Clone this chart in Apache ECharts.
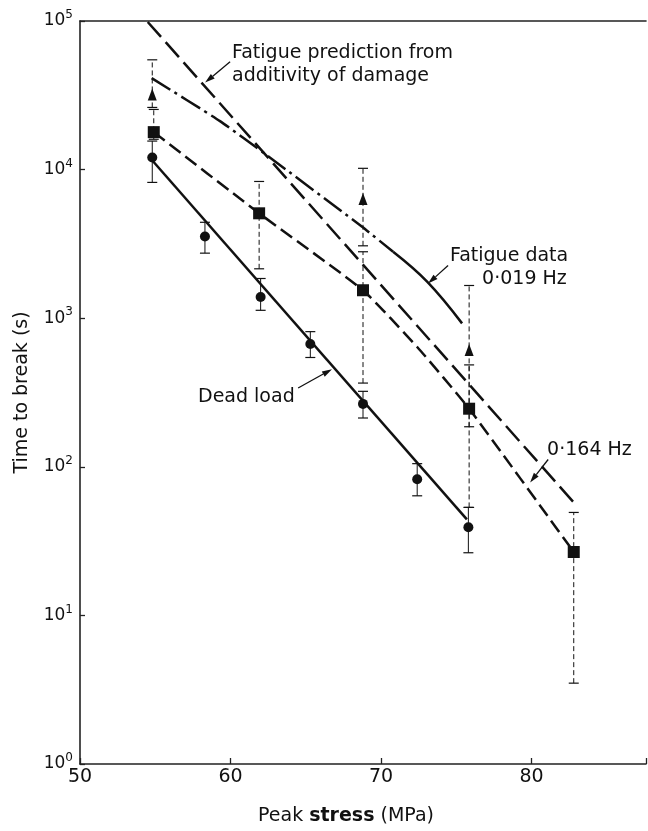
<!DOCTYPE html>
<html>
<head>
<meta charset="utf-8">
<script src="https://cdn.jsdelivr.net/npm/echarts@6/dist/echarts.min.js"></script>
<style>
  html, body { margin: 0; padding: 0; background: #fff; }
  #chart { width: 648px; height: 831px; }
</style>
</head>
<body>
<div id="chart"></div>
<script>
// Dead load: time to break with scatter bars
const deadStress = [54.8, 58.3, 62.0, 65.3, 68.8, 72.4, 75.8];
const deadTime   = [12050, 3550, 1390, 671, 265, 82.5, 39.2];
const deadLow    = [8200, 2740, 1130, 544, 213, 63.8, 26.4];
const deadHigh   = [15560, 4420, 1850, 812, 322, 105, 53.3];

// Fatigue at 0.164 Hz (squares)
const hz164Stress = [54.9, 61.9, 68.8, 75.85, 82.8];
const hz164Time   = [17870, 5080, 1542, 246, 26.7];
const hz164Low    = [16000, 2150, 366, 186, 3.5];
const hz164High   = [25400, 8320, 2800, 485, 49.3];

// Fatigue at 0.019 Hz (triangles)
const hz019Stress = [54.8, 68.8, 75.85];
const hz019Time   = [32000, 6340, 611];
const hz019Low    = [26200, 3070, 53.3];
const hz019High   = [54800, 10200, 1660];

// Drawn curves
const deadFitStress = [54.85, 75.7];
const deadFitTime   = [11380, 44.3];
const predStress = [54.5, 82.8];
const predTime   = [98500, 57.6];
const hz164CurveStress = [54.9, 61.9, 68.8, 72.4, 75.85, 82.8];
const hz164CurveTime   = [17870, 5080, 1542, 640, 246, 26.7];
const hz019CurveStress = [54.76, 59.3, 62.5, 68.74, 70.8, 73.06, 75.38];
const hz019CurveTime   = [41300, 21200, 12300, 4120, 2800, 1762, 923];

// Axis ticks
const xTicks = [50, 60, 70, 80];
const yExponents = [0, 1, 2, 3, 4, 5];

const INK = '#111';
const FONT = 'DejaVu Sans';

const zip = (xs, ys) => xs.map((x, i) => [x, ys[i]]);
const bars = (xs, lo, hi) => xs.map((x, i) => [x, lo[i], hi[i]]);

function errorBars(dashed) {
  return function (params, api) {
    const x = api.value(0);
    const pLo = api.coord([x, api.value(1)]);
    const pHi = api.coord([x, api.value(2)]);
    const hw = 5;
    const s = { stroke: INK, lineWidth: 1, lineDash: dashed ? [5, 3] : null };
    const cap = { stroke: INK, lineWidth: 1.2 };
    return {
      type: 'group',
      children: [
        { type: 'line', shape: { x1: pLo[0], y1: pLo[1], x2: pHi[0], y2: pHi[1] }, style: s },
        { type: 'line', shape: { x1: pLo[0] - hw, y1: pLo[1], x2: pLo[0] + hw, y2: pLo[1] }, style: cap },
        { type: 'line', shape: { x1: pHi[0] - hw, y1: pHi[1], x2: pHi[0] + hw, y2: pHi[1] }, style: cap }
      ]
    };
  };
}

const split = 4;
const chart = echarts.init(document.getElementById('chart'));
chart.setOption({
  animation: false,
  backgroundColor: '#fff',
  grid: { left: 80, top: 21, width: 566, height: 747 },
  xAxis: [{
    type: 'value', min: 50, max: 87.6, interval: 10,
    axisLine: { lineStyle: { color: '#222', width: 1.6 } },
    axisTick: { inside: true, length: 6, lineStyle: { color: '#222', width: 1.3 } },
    splitLine: { show: false },
    axisLabel: {
      margin: 4, color: INK, fontFamily: FONT, fontSize: 19,
      customValues: xTicks, formatter: v => String(v)
    },
    name: '{a|Peak }{b|stress}{a| (MPa)}',
    nameLocation: 'middle', nameGap: 43,
    nameTextStyle: {
      padding: [0, 34, 0, 0],
      rich: {
        a: { fontFamily: FONT, fontSize: 19, color: INK },
        b: { fontFamily: FONT, fontSize: 19, color: INK, fontWeight: 'bold' }
      }
    }
  }, {
    type: 'value', position: 'top', min: 50, max: 87.6,
    axisLine: { lineStyle: { color: '#222', width: 1.6 } },
    axisTick: { show: false }, axisLabel: { show: false }, splitLine: { show: false }
  }],
  yAxis: {
    type: 'log', logBase: 10, min: 1, max: 1e5, interval: 1,
    axisLine: { lineStyle: { color: '#222', width: 1.6 } },
    axisTick: { inside: true, length: 5, lineStyle: { color: '#222', width: 1.3 } },
    splitLine: { show: false },
    minorTick: { show: false },
    axisLabel: {
      margin: 7, color: INK,
      formatter: v => {
        const e = Math.round(Math.log10(v));
        return yExponents.includes(e) ? '{b|10}{s|' + e + '}' : '';
      },
      rich: {
        b: { fontFamily: FONT, fontSize: 17, color: INK },
        s: { fontFamily: FONT, fontSize: 12, color: INK, padding: [0, 0, 12, 0] }
      }
    },
    name: 'Time to break (s)',
    nameLocation: 'middle', nameGap: 48,
    nameTextStyle: { fontFamily: FONT, fontSize: 19, color: INK }
  },
  series: [
    {
      name: 'Dead load fit', type: 'line', data: zip(deadFitStress, deadFitTime),
      showSymbol: false, lineStyle: { color: INK, width: 2.5 }, z: 3
    },
    {
      name: 'Additivity prediction', type: 'line', data: zip(predStress, predTime),
      showSymbol: false, lineStyle: { color: INK, width: 2.5, type: [20, 7] }, z: 3
    },
    {
      name: '0.164 Hz curve', type: 'line', data: zip(hz164CurveStress, hz164CurveTime),
      smooth: 0.15, showSymbol: false,
      lineStyle: { color: INK, width: 2.5, type: [14, 6] }, z: 3
    },
    {
      name: '0.019 Hz curve a', type: 'line',
      data: zip(hz019CurveStress.slice(0, split + 1), hz019CurveTime.slice(0, split + 1)),
      smooth: 0.15, showSymbol: false,
      lineStyle: { color: INK, width: 2.5, type: [22, 5, 3, 5] }, z: 3
    },
    {
      name: '0.019 Hz curve b', type: 'line',
      data: zip(hz019CurveStress.slice(split), hz019CurveTime.slice(split)),
      smooth: 0.4, showSymbol: false,
      lineStyle: { color: INK, width: 2.5 }, z: 3
    },
    {
      name: 'Dead load bars', type: 'custom', renderItem: errorBars(false),
      data: bars(deadStress, deadLow, deadHigh), encode: { x: 0, y: [1, 2] }, z: 2
    },
    {
      name: '0.164 Hz bars', type: 'custom', renderItem: errorBars(true),
      data: bars(hz164Stress, hz164Low, hz164High), encode: { x: 0, y: [1, 2] }, z: 2
    },
    {
      name: '0.019 Hz bars', type: 'custom', renderItem: errorBars(true),
      data: bars(hz019Stress, hz019Low, hz019High), encode: { x: 0, y: [1, 2] }, z: 2
    },
    {
      name: 'Dead load', type: 'scatter', data: zip(deadStress, deadTime),
      symbol: 'circle', symbolSize: 10, itemStyle: { color: INK, opacity: 1 }, z: 5
    },
    {
      name: '0.164 Hz', type: 'scatter', data: zip(hz164Stress, hz164Time),
      symbol: 'rect', symbolSize: 12, itemStyle: { color: INK, opacity: 1 }, z: 5
    },
    {
      name: '0.019 Hz', type: 'scatter', data: zip(hz019Stress, hz019Time),
      symbol: 'triangle', symbolSize: [9, 12], itemStyle: { color: INK, opacity: 1 }, z: 5
    }
  ]
});

// Curve labels with pointer arrows, placed in data coordinates
const notes = [
  { lines: ['Fatigue prediction from', 'additivity of damage'], at: [60.1, 72900],
    from: [59.97, 53200], to: [58.31, 38500] },
  { lines: ['Fatigue data'], at: [74.58, 2630], from: [74.45, 2260], to: [73.12, 1710] },
  { lines: ['0·019 Hz'], at: [76.71, 1820] },
  { lines: ['0·164 Hz'], at: [81.03, 130], from: [81.10, 112], to: [79.90, 78.4] },
  { lines: ['Dead load'], at: [57.84, 295], from: [64.49, 339], to: [66.74, 454] }
];

const toPx = p => chart.convertToPixel({ gridIndex: 0 }, p);
const graphics = [];
notes.forEach(n => {
  const p = toPx(n.at);
  const multi = n.lines.length > 1;
  graphics.push({
    type: 'text', x: p[0], y: p[1],
    style: {
      text: n.lines.join('\n'), fill: INK, font: '19px "' + FONT + '"',
      lineHeight: 23, align: 'left', verticalAlign: multi ? 'top' : 'middle'
    }
  });
  if (n.from) {
    const a = toPx(n.from), b = toPx(n.to);
    const ang = Math.atan2(b[1] - a[1], b[0] - a[0]);
    const len = 10, hw = 3;
    const bx = b[0] - len * Math.cos(ang), by = b[1] - len * Math.sin(ang);
    const nx = -Math.sin(ang) * hw, ny = Math.cos(ang) * hw;
    graphics.push({
      type: 'line', shape: { x1: a[0], y1: a[1], x2: bx, y2: by },
      style: { stroke: INK, lineWidth: 1.3 }
    });
    graphics.push({
      type: 'polygon',
      shape: { points: [[b[0], b[1]], [bx + nx, by + ny], [bx - nx, by - ny]] },
      style: { fill: INK }
    });
  }
});
chart.setOption({ graphic: graphics });
</script>
</body>
</html>
